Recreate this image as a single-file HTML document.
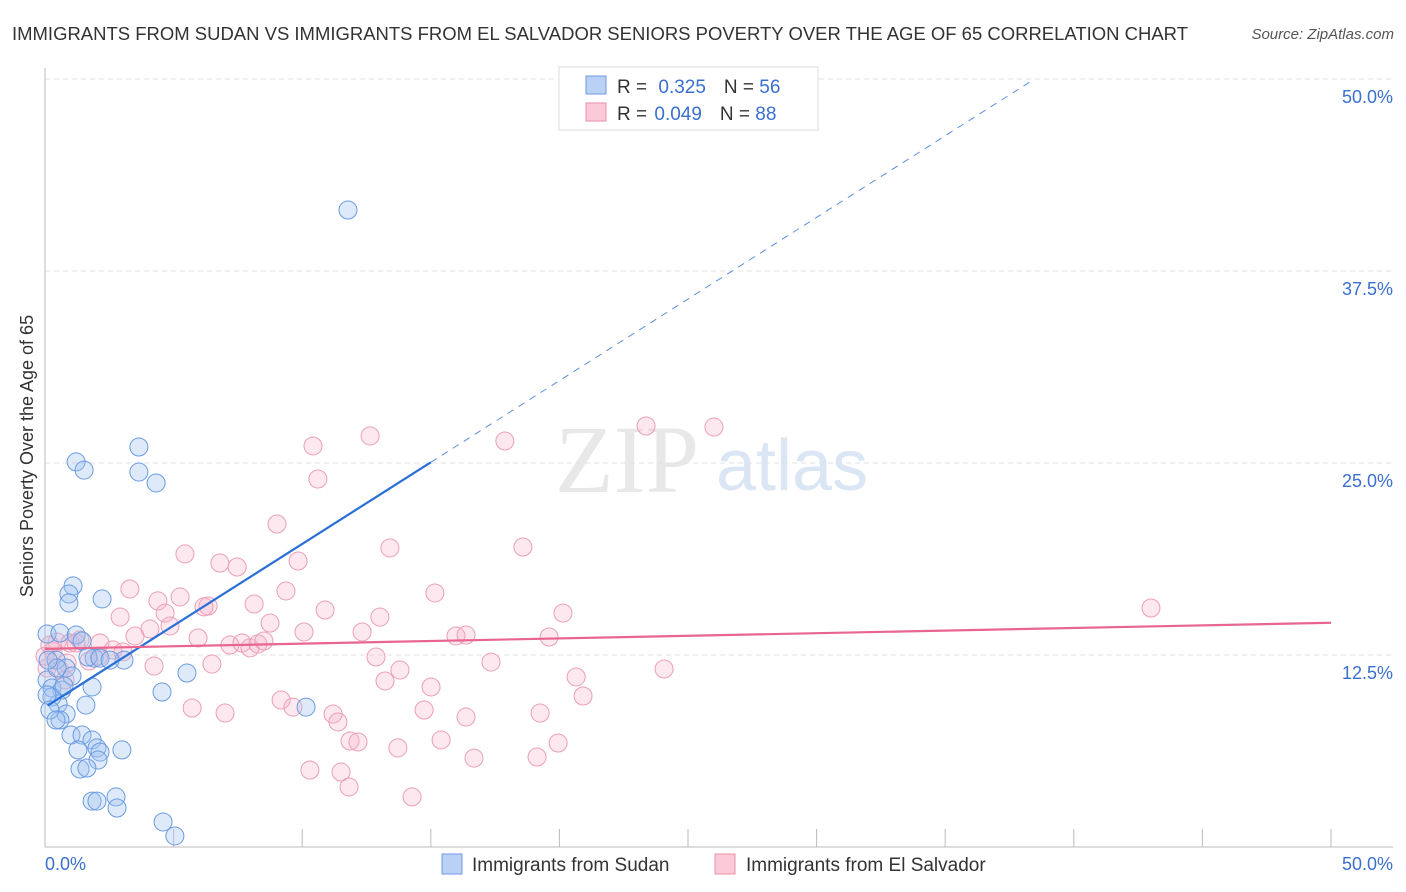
<!DOCTYPE html>
<html><head><meta charset="utf-8"><style>
body{margin:0;background:#fff;font-family:"Liberation Sans",sans-serif;}
svg{display:block}
</style></head><body>
<svg id="chart" width="1406" height="892" xmlns="http://www.w3.org/2000/svg">
<text x="12" y="40" font-size="18.5" fill="#333" textLength="1176" lengthAdjust="spacingAndGlyphs">IMMIGRANTS FROM SUDAN VS IMMIGRANTS FROM EL SALVADOR SENIORS POVERTY OVER THE AGE OF 65 CORRELATION CHART</text>
<text x="1394" y="39" font-size="15" fill="#555" font-style="italic" text-anchor="end">Source: ZipAtlas.com</text>
<g>
<text x="555" y="492" font-size="96" font-family="Liberation Serif,serif" fill="#e8e8e8">ZIP</text>
<text x="716" y="490" font-size="72" fill="#dbe6f5">atlas</text>
</g>
<g id="grid"></g>
<g id="axes"></g>
<g id="marks"></g>
<text x="33" y="456" font-size="18" fill="#333" transform="rotate(-90 33 456)" text-anchor="middle">Seniors Poverty Over the Age of 65</text>
<g>
<rect x="559" y="67" width="259" height="63" fill="#fff" stroke="#ddd"/>
<rect x="586" y="76" width="20" height="18" fill="#b9d1f5" stroke="#6f9be0"/>
<rect x="586" y="103" width="20" height="18" fill="#fbc9d7" stroke="#e991ab"/>
<text x="617" y="93" font-size="19" fill="#333">R = <tspan fill="#3a6fd0" dx="6">0.325</tspan><tspan dx="18" fill="#333">N = </tspan><tspan fill="#3a6fd0">56</tspan></text>
<text x="617" y="120" font-size="19" fill="#333">R = <tspan fill="#3a6fd0" dx="2">0.049</tspan><tspan dx="18" fill="#333">N = </tspan><tspan fill="#3a6fd0">88</tspan></text>
</g>
<g>
<rect x="442" y="854" width="20" height="20" fill="#b9d1f5" stroke="#6f9be0"/>
<text x="472" y="871" font-size="19" fill="#333">Immigrants from Sudan</text>
<rect x="715" y="854" width="20" height="20" fill="#fbc9d7" stroke="#e991ab"/>
<text x="746" y="871" font-size="19" fill="#333">Immigrants from El Salvador</text>
</g>
</svg>
<script>
const yTicks=[12.5,25,37.5,50];
const yTickLabels=["12.5%","25.0%","37.5%","50.0%"];
const xTicks=[0,5,10,15,20,25,30,35,40,45,50];
const sudanX=[11.78,3.65,1.21,1.52,3.65,4.32,1.09,0.93,0.93,2.22,0.08,0.58,1.21,1.44,1.91,3.07,0.43,0.82,0.08,0.27,0.66,1.05,1.83,4.55,5.52,0.51,1.59,10.15,0.82,0.58,1.01,1.44,1.83,1.28,2.02,2.14,2.99,2.06,1.36,1.63,1.83,2.02,2.76,2.80,4.59,5.05,0.27,0.08,0.19,0.47,0.74,1.67,0.43,2.14,0.12,2.53];
const sudanY=[41.47,26.04,25.07,24.54,24.41,23.7,17.0,16.47,15.89,16.15,13.87,13.93,13.8,13.41,12.3,12.17,12.17,11.65,10.87,10.35,10.22,11.13,10.42,10.09,11.33,9.31,9.24,9.11,8.66,8.27,7.29,7.29,6.97,6.32,6.45,6.18,6.32,5.66,5.08,5.14,2.99,2.99,3.26,2.54,1.63,0.72,9.77,9.9,8.92,11.65,10.48,12.37,8.27,12.3,12.17,12.17];
const salvX=[23.37,26.01,17.88,12.64,10.42,10.61,9.02,13.41,18.58,5.44,6.8,7.47,9.84,3.3,9.37,15.16,5.25,4.39,6.34,6.18,8.13,10.89,13.02,20.14,2.92,4.67,8.75,4.08,4.86,3.5,10.07,12.33,15.98,16.37,19.6,5.95,7.19,7.66,7.97,8.28,8.51,0.47,1.36,2.14,2.64,3.03,2.1,1.71,4.24,6.49,12.87,17.34,24.07,13.8,13.22,20.65,15.01,20.92,9.18,9.64,5.72,7.0,11.2,11.39,14.74,16.37,19.25,11.86,12.17,15.4,19.95,13.72,16.68,19.13,10.3,11.51,11.82,14.27,43.0,0.31,0.08,0.58,0.86,0.97,1.21,0.19,0,0.78];
const salvY=[27.41,27.34,26.43,26.76,26.11,23.96,21.03,19.47,19.53,19.08,18.49,18.23,18.62,16.8,16.67,16.54,16.28,16.02,15.69,15.63,15.82,15.43,14.97,15.23,14.97,15.23,14.58,14.19,14.39,13.74,14.0,14.0,13.74,13.8,13.67,13.61,13.15,13.28,12.96,13.22,13.41,13.35,13.48,13.28,12.83,12.7,12.43,12.11,11.78,11.91,12.37,12.04,11.59,11.52,10.81,11.07,10.42,9.83,9.57,9.11,9.05,8.72,8.66,8.14,8.92,8.46,8.72,6.9,6.84,6.97,6.77,6.45,5.79,5.86,5.01,4.88,3.91,3.26,15.56,12.76,11.65,11.52,11.98,13.28,13.28,13.15,12.43,10.87];
const sudanTrend=[9.1,1.063];   // intercept, slope
const salvTrend=[12.9,0.034];
const NS="http://www.w3.org/2000/svg";
const X=v=>45+v*25.72, Y=v=>847-v*15.36;
function mk(tag,attrs,parent){const e=document.createElementNS(NS,tag);for(const k in attrs)e.setAttribute(k,attrs[k]);parent.appendChild(e);return e;}
const grid=document.getElementById('grid'),axes=document.getElementById('axes'),marks=document.getElementById('marks');
yTicks.forEach((t,i)=>{
 const l=mk('line',{x1:45,x2:1393,y1:Y(t),y2:Y(t),stroke:'#e2e2e2','stroke-dasharray':'5,4'},grid);
 
 
 const tx=mk('text',{x:1393,y:Y(t)+24,'font-size':18,fill:'#3a6fd0','text-anchor':'end'},axes);
 tx.textContent=yTickLabels[i];
 
 
});
const ax=mk('path',{d:'M45 68V847H1393',stroke:'#bbb',fill:'none'},axes);


xTicks.forEach(t=>{if(t===0)return;const l=mk('line',{x1:X(t),x2:X(t),y1:829,y2:847,stroke:'#bbb'},axes);
 
 });
const xl0=mk('text',{x:45,y:870,'font-size':18,fill:'#3a6fd0'},axes);xl0.textContent=xTicks[0].toFixed(1)+'%';


const xl1=mk('text',{x:1393,y:870,'font-size':18,fill:'#3a6fd0','text-anchor':'end'},axes);xl1.textContent=xTicks[xTicks.length-1].toFixed(1)+'%';


salvX.forEach((x,i)=>{const c=mk('circle',{cx:X(x),cy:Y(salvY[i]),r:9,fill:'rgba(248,180,202,0.3)',stroke:'#eb9fb6','stroke-width':1},marks);
 
 });
sudanX.forEach((x,i)=>{const c=mk('circle',{cx:X(x),cy:Y(sudanY[i]),r:9,fill:'rgba(160,196,242,0.35)',stroke:'#6a9be2','stroke-width':1},marks);
 
 });
const sEnd=15, sDash=(50-sudanTrend[0])/sudanTrend[1];
const b1=mk('line',{x1:X(0.1),y1:Y(sudanTrend[0]+0.1*sudanTrend[1]),x2:X(sEnd),y2:Y(sudanTrend[0]+sEnd*sudanTrend[1]),stroke:'#2a6fd6','stroke-width':2.2},marks);


const b2=mk('line',{x1:X(sEnd),y1:Y(sudanTrend[0]+sEnd*sudanTrend[1]),x2:X(sDash),y2:Y(50),stroke:'#5b8fe0','stroke-width':1,'stroke-dasharray':'7,6'},marks);


const p1=mk('line',{x1:X(0),y1:Y(salvTrend[0]),x2:X(50),y2:Y(salvTrend[0]+50*salvTrend[1]),stroke:'#e8658f','stroke-width':2.2},marks);


</script>
</body></html>
